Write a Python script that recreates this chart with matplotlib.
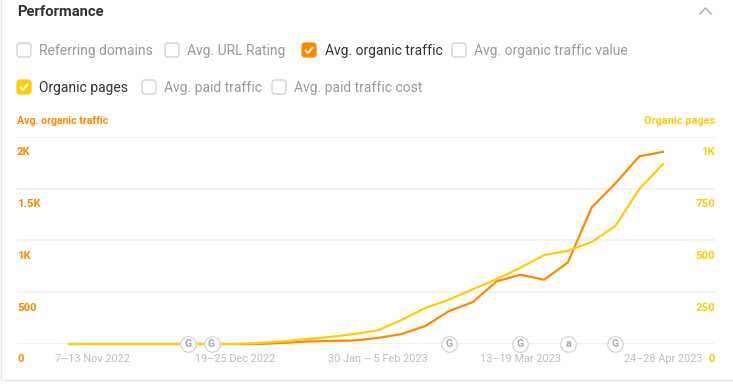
import matplotlib
matplotlib.use('Agg')
import matplotlib.pyplot as plt
from matplotlib.patches import FancyBboxPatch, Rectangle

W, H = 733, 387

week_idx = list(range(26))
organic_traffic = [0, 0, 0, 0, 0, 0, 0, 0, 0, 10, 24, 29, 34, 58, 96, 174, 318, 405, 605, 668, 620, 788, 1318, 1550, 1810, 1854]
organic_pages = [0, 0, 0, 0, 0, 0, 0, 0, 5, 12, 24, 34, 48, 66, 116, 174, 214, 264, 313, 368, 429, 450, 492, 570, 747, 868]

left_ticks = [0, 500, 1000, 1500, 2000]
left_labels = ['0', '500', '1K', '1.5K', '2K']
right_ticks = [0, 250, 500, 750, 1000]
right_labels = ['0', '250', '500', '750', '1K']

date_idx = [1, 7, 13, 19, 25]
date_labels = ['7–13 Nov 2022', '19–25 Dec 2022', '30 Jan – 5 Feb 2023', '13–19 Mar 2023', '24–28 Apr 2023']

event_idx = [5, 6, 16, 19, 21, 23]
event_labels = ['G', 'G', 'G', 'G', 'a', 'G']

unchecked_row1 = [(17, 'Referring domains', 39), (165, 'Avg. URL Rating', 187), (452, 'Avg. organic traffic value', 474)]
unchecked_row2 = [(142, 'Avg. paid traffic', 164), (272, 'Avg. paid traffic cost', 294)]

ORANGE = '#ff8800'
YELLOW = '#ffcc0a'
GRID = '#f0f0f0'
MUTED = '#9a9a9a'
DARK = '#333333'

plt.rcParams['font.family'] = ['Roboto', 'DejaVu Sans']

fig = plt.figure(figsize=(W / 100, H / 100), dpi=100, facecolor='white')

# pixel overlay for the panel furniture
bg = fig.add_axes([0, 0, 1, 1])
bg.set_xlim(0, W)
bg.set_ylim(H, 0)
bg.axis('off')


def checkbox(x, y, color=None):
    if color is None:
        bg.add_patch(FancyBboxPatch((x + 2, y + 2), 10, 10, boxstyle='round,pad=2,rounding_size=3',
                                    fc='white', ec='#cfcfcf', lw=0.9))
    else:
        bg.add_patch(FancyBboxPatch((x + 2, y + 2), 10, 10, boxstyle='round,pad=2,rounding_size=3',
                                    fc=color, ec=color, lw=0.9))
        bg.plot([x + 3.5, x + 6, x + 10.5], [y + 7.5, y + 10, y + 4.5], color='white', lw=1.4, solid_capstyle='round')


bg.add_patch(Rectangle((0.5, -2), W, 381.5, fc='none', ec='#e8e8e8', lw=1))
bg.text(17, 11.5, 'Performance', fontsize=10.6, fontweight='bold', color=DARK, va='center')
bg.plot([700, 705.5, 711], [14, 8, 14], color='#b5b5b5', lw=1.2)

for x, label, tx in unchecked_row1:
    checkbox(x, 43)
    bg.text(tx, 51, label, fontsize=10, color=MUTED, va='center')
for x, label, tx in unchecked_row2:
    checkbox(x, 80)
    bg.text(tx, 88, label, fontsize=10, color=MUTED, va='center')
checkbox(302, 43, ORANGE)
bg.text(325, 51, 'Avg. organic traffic', fontsize=10, color=DARK, va='center')
checkbox(17, 80, YELLOW)
bg.text(39, 88, 'Organic pages', fontsize=10, color=DARK, va='center')

bg.text(17, 120.5, 'Avg. organic traffic', fontsize=7.6, fontweight='bold', color=ORANGE, va='center')
bg.text(715, 120.5, 'Organic pages', fontsize=7.8, fontweight='bold', color=YELLOW, va='center', ha='right')

# chart axes: gridlines run from x=17 to x=715, y=137 (2K) to y=344 (0)
ax = fig.add_axes([17 / W, 1 - 344 / H, 698 / W, 207.3 / H])
ax.patch.set_alpha(0)
step = (663 - 69) / 25
ax.set_xlim(-(69 - 17) / step, 25 + (715 - 663) / step)
ax.set_ylim(0, 2000)
ax.set_yticks(left_ticks)
ax.set_xticks([])
ax.set_yticklabels([])
ax.tick_params(length=0)
ax.grid(axis='y', color=GRID, lw=1.3)
ax.set_axisbelow(True)
for s in ax.spines.values():
    s.set_visible(False)

ax2 = ax.twinx()
ax2.set_ylim(0, 1000)
ax2.set_yticks([])
for s in ax2.spines.values():
    s.set_visible(False)

ax.plot(week_idx, organic_traffic, color=ORANGE, lw=1.6, clip_on=False, solid_joinstyle='miter', zorder=3)
ax2.plot(week_idx, organic_pages, color=YELLOW, lw=1.6, clip_on=False, solid_joinstyle='miter', zorder=4)

# tick labels sit below their gridlines
for v, label in zip(left_ticks, left_labels):
    ax.annotate(label, (0, v), xycoords=('axes fraction', 'data'), xytext=(0, -15.5), textcoords='offset pixels',
                fontsize=8.2, fontweight='bold', color=ORANGE, va='center', ha='left')
for v, label in zip(right_ticks, right_labels):
    ax2.annotate(label, (1, v), xycoords=('axes fraction', 'data'), xytext=(0, -15.5), textcoords='offset pixels',
                 fontsize=8.2, fontweight='bold', color=YELLOW, va='center', ha='right')
for i, label in zip(date_idx, date_labels):
    ax.annotate(label, (i, 0), xycoords='data', xytext=(0, -15.5), textcoords='offset pixels',
                fontsize=7.8, color='#bdbdbd', va='center', ha='center')

ax2.scatter(event_idx, [0] * len(event_idx), s=125, fc='white', ec='#d4d4d4', lw=0.9, clip_on=False, zorder=5)
for i, label in zip(event_idx, event_labels):
    ax2.annotate(label, (i, 0), xycoords='data', fontsize=7.5, fontweight='bold', color='#a8a8a8',
                 va='center', ha='center', zorder=6, annotation_clip=False)

fig.savefig('out.png', dpi=100)
plt.close(fig)
